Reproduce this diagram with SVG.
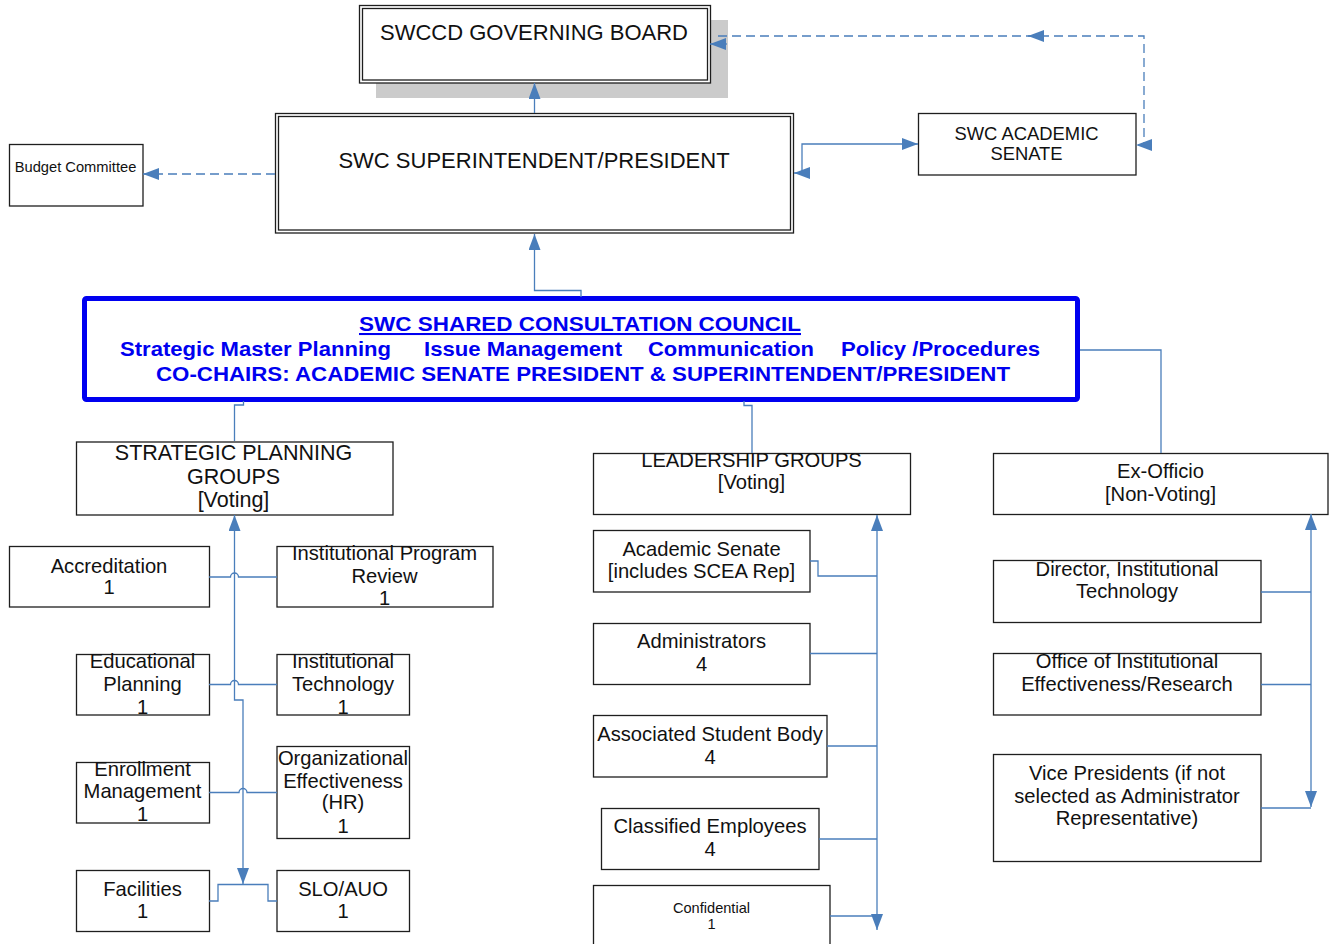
<svg xmlns="http://www.w3.org/2000/svg" width="1337" height="944" viewBox="0 0 1337 944">
<style>
.box{fill:#fff;stroke:#1e1e1e;stroke-width:1.3}
.t{font-family:"Liberation Sans",Arial,sans-serif;font-size:20.2px;fill:#111;text-anchor:middle}
.ttl{font-size:22px}
.sm{font-size:14.6px}
.cc{font-family:"Liberation Sans",Arial,sans-serif;font-size:20.5px;font-weight:bold;fill:#0000f0}
.c{fill:none;stroke:#4a7ebb;stroke-width:1.3}
.d{stroke-dasharray:9 5}
</style>
<defs>
<marker id="ar" viewBox="0 0 16 12" refX="16" refY="6" markerWidth="16" markerHeight="12" markerUnits="userSpaceOnUse" orient="auto-start-reverse">
<path d="M0,0 L16,6 L0,12 z" fill="#4a7ebb"/>
</marker>
</defs>

<g id="governing-board">
<rect x="376" y="20" width="352" height="78" fill="#cbcbcb"/>
<rect class="box" x="359.5" y="5.5" width="351" height="77.5"/>
<rect class="box" x="362.5" y="8.5" width="345" height="71.5"/>
<text class="t ttl" x="534" y="40">SWCCD GOVERNING BOARD</text>
</g>

<g id="superintendent">
<rect class="box" x="275.5" y="113.5" width="518" height="119.5"/>
<rect class="box" x="278.5" y="116.5" width="512" height="113.5"/>
<text class="t ttl" x="534" y="168">SWC SUPERINTENDENT/PRESIDENT</text>
</g>

<g id="budget-committee">
<rect class="box" x="9.5" y="144.5" width="133.5" height="61.5"/>
<text class="t" style="font-size:14.7px" x="75.5" y="172">Budget Committee</text>
</g>

<g id="academic-senate">
<rect class="box" x="918.5" y="113.5" width="217.5" height="61.5"/>
<text class="t" style="font-size:18.4px" x="1026.5" y="140">SWC ACADEMIC</text>
<text class="t" style="font-size:18.4px" x="1026.5" y="160">SENATE</text>
</g>

<g id="council">
<rect x="84.5" y="298.5" width="993" height="101" rx="2" fill="#fff" stroke="#0000f0" stroke-width="5"/>
<text class="cc" x="359" y="331" textLength="442" lengthAdjust="spacingAndGlyphs" text-decoration="underline">SWC SHARED CONSULTATION COUNCIL</text>
<text class="cc" x="120" y="356" textLength="271" lengthAdjust="spacingAndGlyphs">Strategic Master Planning</text>
<text class="cc" x="424" y="356" textLength="198" lengthAdjust="spacingAndGlyphs">Issue Management</text>
<text class="cc" x="648" y="356" textLength="166" lengthAdjust="spacingAndGlyphs">Communication</text>
<text class="cc" x="841" y="356" textLength="199" lengthAdjust="spacingAndGlyphs">Policy /Procedures</text>
<text class="cc" x="156" y="381" textLength="854" lengthAdjust="spacingAndGlyphs">CO-CHAIRS: ACADEMIC SENATE PRESIDENT &amp; SUPERINTENDENT/PRESIDENT</text>
</g>

<g id="strategic-planning-groups">
<rect class="box" x="76.5" y="442" width="316.5" height="73"/>
<text class="t" style="font-size:21.5px" x="233.5" y="460">STRATEGIC PLANNING</text>
<text class="t" style="font-size:21.5px" x="233.5" y="484">GROUPS</text>
<text class="t" style="font-size:21.5px" x="233.5" y="507">[Voting]</text>
</g>

<g id="leadership-groups">
<rect class="box" x="593.5" y="453.5" width="317" height="61"/>
<text class="t" x="751.5" y="467">LEADERSHIP GROUPS</text>
<text class="t" x="751.5" y="489">[Voting]</text>
</g>

<g id="ex-officio">
<rect class="box" x="993.5" y="453.5" width="334.5" height="61"/>
<text class="t" x="1160.5" y="478">Ex-Officio</text>
<text class="t" x="1160.5" y="501">[Non-Voting]</text>
</g>

<g id="accreditation">
<rect class="box" x="9.5" y="546.5" width="200" height="60.5"/>
<text class="t" x="109" y="573">Accreditation</text>
<text class="t" x="109" y="594">1</text>
</g>

<g id="institutional-program-review">
<rect class="box" x="277" y="546.5" width="216" height="60.5"/>
<text class="t" x="384.5" y="560">Institutional Program</text>
<text class="t" x="384.5" y="583">Review</text>
<text class="t" x="384.5" y="605">1</text>
</g>

<g id="educational-planning">
<rect class="box" x="76.5" y="654.5" width="133" height="60.5"/>
<text class="t" x="142.5" y="668">Educational</text>
<text class="t" x="142.5" y="691">Planning</text>
<text class="t" x="142.5" y="714">1</text>
</g>

<g id="institutional-technology">
<rect class="box" x="277" y="654.5" width="132.5" height="60.5"/>
<text class="t" x="343" y="668">Institutional</text>
<text class="t" x="343" y="691">Technology</text>
<text class="t" x="343" y="714">1</text>
</g>

<g id="enrollment-management">
<rect class="box" x="76.5" y="762.5" width="133" height="60.5"/>
<text class="t" x="142.5" y="776">Enrollment</text>
<text class="t" x="142.5" y="798">Management</text>
<text class="t" x="142.5" y="821">1</text>
</g>

<g id="organizational-effectiveness">
<rect class="box" x="277" y="746.5" width="132.5" height="92"/>
<text class="t" x="343" y="765">Organizational</text>
<text class="t" x="343" y="788">Effectiveness</text>
<text class="t" x="343" y="809">(HR)</text>
<text class="t" x="343" y="833">1</text>
</g>

<g id="facilities">
<rect class="box" x="76.5" y="870.5" width="133" height="61"/>
<text class="t" x="142.5" y="896">Facilities</text>
<text class="t" x="142.5" y="918">1</text>
</g>

<g id="slo-auo">
<rect class="box" x="277" y="870.5" width="132.5" height="61"/>
<text class="t" x="343" y="896">SLO/AUO</text>
<text class="t" x="343" y="918">1</text>
</g>

<g id="leader-academic-senate">
<rect class="box" x="593.5" y="530.5" width="216.5" height="61.5"/>
<text class="t" x="701.5" y="556">Academic Senate</text>
<text class="t" x="701.5" y="578">[includes SCEA Rep]</text>
</g>

<g id="administrators">
<rect class="box" x="593.5" y="623.5" width="216.5" height="61"/>
<text class="t" x="701.5" y="648">Administrators</text>
<text class="t" x="701.5" y="671">4</text>
</g>

<g id="associated-student-body">
<rect class="box" x="593.5" y="715.5" width="233.5" height="61.5"/>
<text class="t" x="710" y="741">Associated Student Body</text>
<text class="t" x="710" y="764">4</text>
</g>

<g id="classified-employees">
<rect class="box" x="601.5" y="808.5" width="217.5" height="61"/>
<text class="t" x="710" y="833">Classified Employees</text>
<text class="t" x="710" y="856">4</text>
</g>

<g id="confidential">
<rect class="box" x="593.5" y="885.5" width="236.5" height="70"/>
<text class="t sm" x="711.5" y="913">Confidential</text>
<text class="t sm" x="711.5" y="929">1</text>
</g>

<g id="director-it">
<rect class="box" x="993.5" y="560.5" width="267.5" height="62"/>
<text class="t" x="1127" y="576">Director, Institutional</text>
<text class="t" x="1127" y="598">Technology</text>
</g>

<g id="office-ie-research">
<rect class="box" x="993.5" y="653.5" width="267.5" height="61.5"/>
<text class="t" x="1127" y="668">Office of Institutional</text>
<text class="t" x="1127" y="691">Effectiveness/Research</text>
</g>

<g id="vice-presidents">
<rect class="box" x="993.5" y="754.5" width="267.5" height="107"/>
<text class="t" x="1127" y="780">Vice Presidents (if not</text>
<text class="t" x="1127" y="803">selected as Administrator</text>
<text class="t" x="1127" y="825">Representative)</text>
</g>

<g id="connectors">
<path class="c" d="M534.5,113 L534.5,83" marker-end="url(#ar)"/>
<path class="c d" d="M275,174 L143,174" marker-end="url(#ar)"/>
<path class="c" d="M918,144 L802,144 L802,173 L794,173" marker-start="url(#ar)" marker-end="url(#ar)"/>
<path class="c d" d="M718,36 L1144,36 L1144,145 L1136,145" marker-end="url(#ar)"/>
<path class="c" d="M1044,36 L1028,36" marker-end="url(#ar)"/>
<path class="c" d="M727,44 L710,44" marker-end="url(#ar)"/>
<path class="c" d="M581,297 L581,290.5 L534.5,290.5 L534.5,234" marker-end="url(#ar)"/>
<path class="c" d="M243.5,401 L243.5,405 L234.5,405 L234.5,441"/>
<path class="c" d="M744,401 L744,405.5 L752,405.5 L752,453"/>
<path class="c" d="M1080,350 L1161,350 L1161,453"/>
<path class="c" d="M234.5,515 L234.5,700 L243,700 L243,884" marker-start="url(#ar)" marker-end="url(#ar)"/>
<path class="c" d="M209,901 L218,901 L218,884.5 L268,884.5 L268,901 L277,901"/>
<path class="c" d="M209,577 L230.5,577 A4,4 0 0 1 238.5,577 L277,577"/>
<path class="c" d="M209,684.5 L230.5,684.5 A4,4 0 0 1 238.5,684.5 L277,684.5"/>
<path class="c" d="M209,792.5 L239,792.5 A4,4 0 0 1 247,792.5 L277,792.5"/>
<path class="c" d="M877,515 L877,930" marker-start="url(#ar)" marker-end="url(#ar)"/>
<path class="c" d="M810,561 L818,561 L818,576 L877,576"/>
<path class="c" d="M810,653.5 H877"/>
<path class="c" d="M827,746 H877"/>
<path class="c" d="M819,839 H877"/>
<path class="c" d="M830,916 H877"/>
<path class="c" d="M1311,514 L1311,807" marker-start="url(#ar)" marker-end="url(#ar)"/>
<path class="c" d="M1261,592 H1311"/>
<path class="c" d="M1261,684.5 H1311"/>
<path class="c" d="M1261,808 H1311"/>
</g>
</svg>
